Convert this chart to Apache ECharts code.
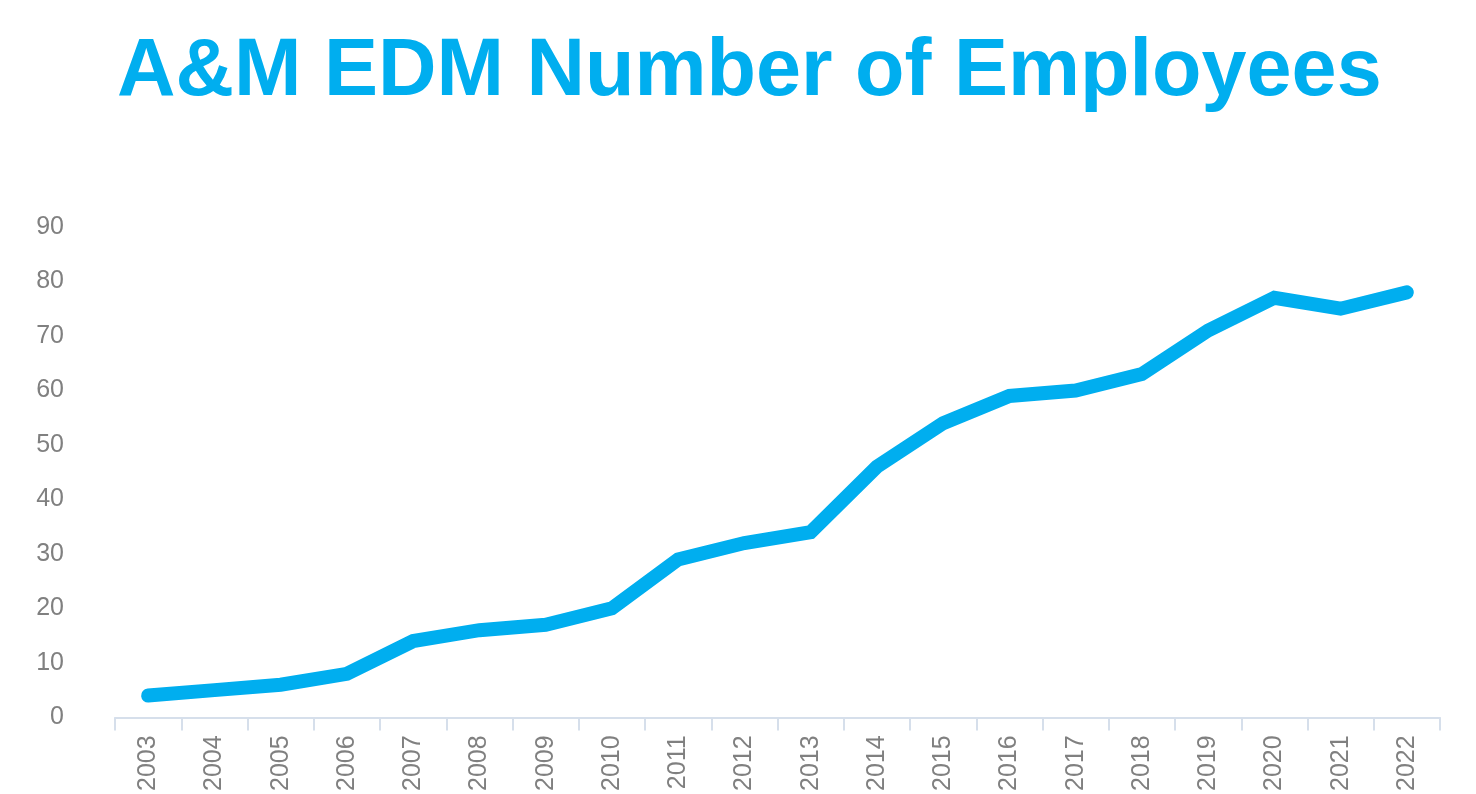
<!DOCTYPE html>
<html>
<head>
<meta charset="utf-8">
<script src="https://cdn.jsdelivr.net/npm/echarts@6/dist/echarts.min.js"></script>
<style>
html,body{margin:0;padding:0;background:#fff;}
#chart{width:1476px;height:794px;}
</style>
</head>
<body>
<div id="chart"></div>
<script>
const titleText = "A&M EDM Number of Employees";
const years = ["2003","2004","2005","2006","2007","2008","2009","2010","2011","2012","2013","2014","2015","2016","2017","2018","2019","2020","2021","2022"];
const employees = [4, 5, 6, 8, 14, 16, 17, 20, 29, 32, 34, 46, 54, 59, 60, 63, 71, 77, 75, 78];
const yTicks = [0, 10, 20, 30, 40, 50, 60, 70, 80, 90];

const chart = echarts.init(document.getElementById('chart'), null, {renderer:'canvas'});
chart.setOption({
  backgroundColor: '#ffffff',
  animation: false,
  title: {
    text: titleText,
    left: 112,
    top: 27,
    textStyle: {
      fontFamily: 'Liberation Sans, Arial, sans-serif',
      fontWeight: 'bold',
      fontSize: 81,
      color: '#00AEEF'
    }
  },
  grid: { left: 115, right: 36, top: 227, bottom: 75, containLabel: false },
  xAxis: {
    type: 'category',
    data: years,
    boundaryGap: true,
    axisLine: { show: true, lineStyle: { color: '#d6dfeb', width: 2 } },
    axisTick: { show: true, length: 13, lineStyle: { color: '#d6dfeb', width: 2 } },
    axisLabel: {
      rotate: 90,
      margin: 18,
      color: '#808080',
      fontSize: 25,
      fontFamily: 'Liberation Sans, Arial, sans-serif'
    },
    splitLine: { show: false }
  },
  yAxis: {
    type: 'value',
    min: yTicks[0],
    max: yTicks[yTicks.length - 1],
    interval: 10,
    axisLine: { show: false },
    axisTick: { show: false },
    splitLine: { show: false },
    axisLabel: {
      margin: 51,
      color: '#808080',
      fontSize: 25,
      fontFamily: 'Liberation Sans, Arial, sans-serif'
    }
  },
  series: [{
    type: 'line',
    data: employees,
    showSymbol: false,
    symbol: 'none',
    lineStyle: { color: '#00AEEF', width: 14, cap: 'round', join: 'miter' }
  }]
});
</script>
</body>
</html>
